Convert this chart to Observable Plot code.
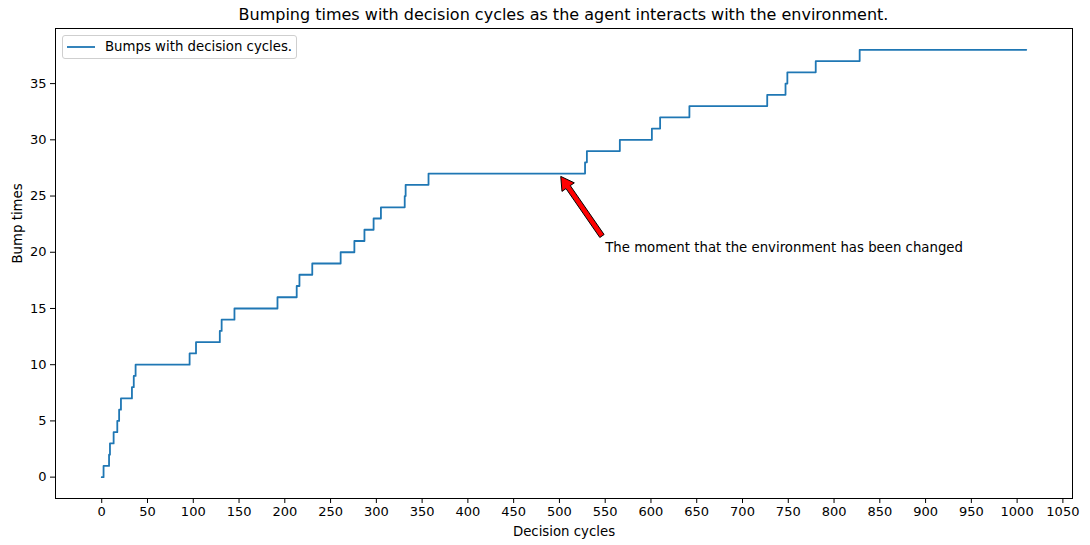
<!DOCTYPE html>
<html>
<head>
<meta charset="utf-8">
<script src="https://cdn.jsdelivr.net/npm/d3@7"></script>
<script src="https://cdn.jsdelivr.net/npm/@observablehq/plot@0.6"></script>
<style>
  html, body { margin: 0; padding: 0; background: #fff; }
  body { width: 1090px; height: 545px; position: relative; overflow: hidden; font-family: "DejaVu Sans", sans-serif; }
  #title { position: absolute; left: 55px; top: 0; width: 1017px; height: 27px; line-height: 30px; text-align: center; font-size: 16px; color: #000; white-space: nowrap; }
  #chart { position: absolute; left: 0; top: 27px; }
  #legend { position: absolute; left: 62px; top: 35px; width: 233px; height: 22px; border: 1px solid #cfcfcf; border-radius: 3px; background: rgba(255,255,255,0.8); font-size: 13.3px; color: #000; }
  #legend svg { position: absolute; left: 4px; top: 5px; }
  #legend span { position: absolute; left: 42px; top: 3px; white-space: nowrap; }
</style>
</head>
<body>
<div id="title">Bumping times with decision cycles as the agent interacts with the environment.</div>
<div id="chart"></div>
<div id="legend"><svg width="30" height="12"><line x1="0" x2="28" y1="6" y2="6" stroke="#1f77b4" stroke-width="1.8"></line></svg><span>Bumps with decision cycles.</span></div>
<script>
// Decision cycle at which each new bump count is reached
const cycles = [0, 2, 8, 9, 13, 17, 19, 21, 33, 35, 37, 96, 103, 129, 131, 145, 192, 213, 216, 230,
                261, 276, 287, 297, 305, 331, 332, 357, 528, 530, 566, 601, 610, 642, 727, 747, 749, 780, 828, 1010];
const bumps  = [0, 1, 2, 3, 4, 5, 6, 7, 8, 9, 10, 11, 12, 13, 14, 15, 16, 17, 18, 19,
                20, 21, 22, 23, 24, 25, 26, 27, 28, 29, 30, 31, 32, 33, 34, 35, 36, 37, 38, 38];
const xTicks = [0, 50, 100, 150, 200, 250, 300, 350, 400, 450, 500, 550, 600, 650, 700, 750, 800, 850, 900, 950, 1000, 1050];
const yTicks = [0, 5, 10, 15, 20, 25, 30, 35];
const annotationText = ["The moment that the environment has been changed"];
const annotationAt = [550, 20];
const arrowTip = [502, 26.7];
const arrowTail = [547, 21.4];

const series = cycles.map((c, i) => ({cycle: c, bumps: bumps[i]}));

function arrowMark(index, scales) {
  const ns = "http://www.w3.org/2000/svg";
  const x0 = scales.x(arrowTail[0]), y0 = scales.y(arrowTail[1]);
  const x1 = scales.x(arrowTip[0]), y1 = scales.y(arrowTip[1]);
  const dx = x1 - x0, dy = y1 - y0, L = Math.hypot(dx, dy);
  const ux = dx / L, uy = dy / L, px = -uy, py = ux;
  const sw = 2.6, hw = 7.5, hl = 13;
  const bx = x1 - ux * hl, by = y1 - uy * hl;
  const pts = [
    [x0 + px * sw, y0 + py * sw],
    [bx + px * sw, by + py * sw],
    [bx + px * hw, by + py * hw],
    [x1, y1],
    [bx - px * hw, by - py * hw],
    [bx - px * sw, by - py * sw],
    [x0 - px * sw, y0 - py * sw]
  ];
  const poly = document.createElementNS(ns, "polygon");
  poly.setAttribute("points", pts.map(p => p.join(",")).join(" "));
  poly.setAttribute("fill", "#ff0000");
  poly.setAttribute("stroke", "#000");
  poly.setAttribute("stroke-width", "1");
  poly.setAttribute("stroke-linejoin", "miter");
  const g = document.createElementNS(ns, "g");
  g.appendChild(poly);
  return g;
}

const chart = Plot.plot({
  width: 1090,
  height: 518,
  marginTop: 1,
  marginBottom: 47,
  marginLeft: 55,
  marginRight: 18,
  style: {fontFamily: "DejaVu Sans, sans-serif", fontSize: "13px", color: "#000", background: "#fff", overflow: "visible"},
  x: {domain: [-50.5, 1060.5], ticks: xTicks, tickFormat: d => String(d), tickSize: 5, tickPadding: 3, label: null},
  y: {domain: [-1.9, 39.9], ticks: yTicks, tickFormat: d => String(d), tickSize: 5, tickPadding: 4, label: null},
  marks: [
    Plot.frame({stroke: "#000", strokeWidth: 1}),
    Plot.line(series, {x: "cycle", y: "bumps", curve: "step-after", stroke: "#1f77b4", strokeWidth: 1.8}),
    arrowMark,
    Plot.text(annotationText, {x: () => annotationAt[0], y: () => annotationAt[1], textAnchor: "start", lineAnchor: "bottom", fontSize: 13.3, fill: "#000"}),
    Plot.text(["Decision cycles"], {frameAnchor: "bottom", dy: 37, fontSize: 13.3, fill: "#000"}),
    Plot.text(["Bump times"], {frameAnchor: "left", dx: -38, rotate: -90, fontSize: 13.3, fill: "#000"})
  ]
});
document.getElementById("chart").appendChild(chart);
</script>
</body>
</html>
